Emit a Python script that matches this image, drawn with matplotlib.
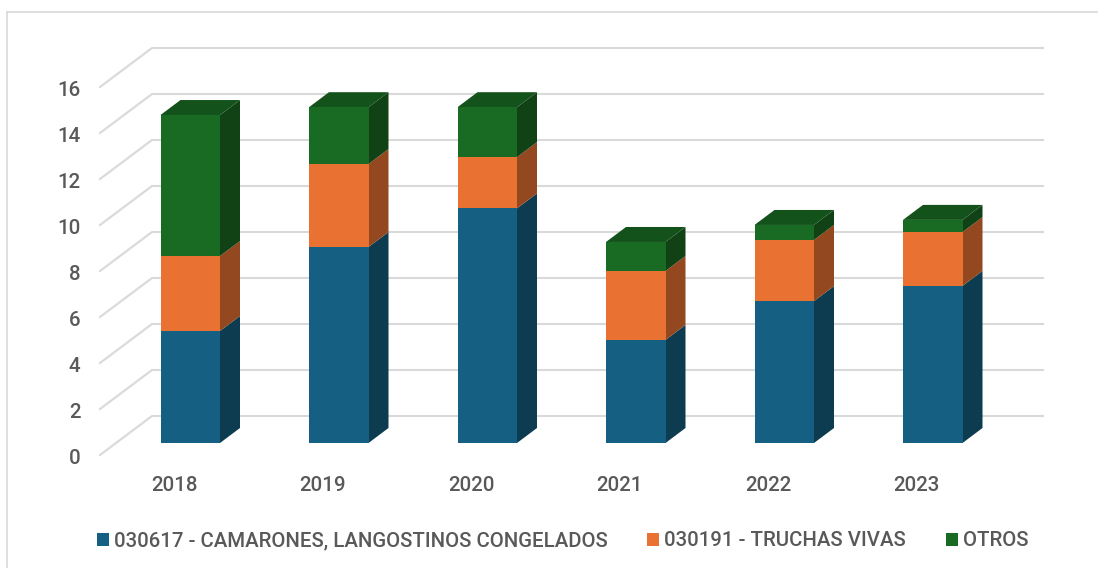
import matplotlib
matplotlib.use("Agg")
import matplotlib.pyplot as plt
from matplotlib.patches import Polygon, Rectangle
from matplotlib.transforms import Affine2D

years = ["2018", "2019", "2020", "2021", "2022", "2023"]
camarones = [4.87, 8.52, 10.2, 4.48, 6.17, 6.83]
truchas = [3.26, 3.61, 2.23, 3.0, 2.66, 2.34]
otros = [6.13, 2.47, 2.17, 1.26, 0.65, 0.53]
series_names = ["030617 - CAMARONES, LANGOSTINOS CONGELADOS", "030191 - TRUCHAS VIVAS", "OTROS"]
yticks = [0, 2, 4, 6, 8, 10, 12, 14, 16]

FRONT = ["#156082", "#E97132", "#196B24"]
SIDE = ["#0D3B4F", "#93481F", "#104216"]
TOP = ["#0F4A64", "#B0551F", "#14521B"]
GRID = "#D9D9D9"
TEXT = "#595959"

W, H, DPI = 1098, 568, 100
plt.rcParams["font.family"] = ["Roboto", "DejaVu Sans"]
plt.rcParams["font.weight"] = "medium"
fig = plt.figure(figsize=(W / DPI, H / DPI), dpi=DPI, facecolor="white")

# figure frame: left and top edges only
fig.add_artist(plt.Line2D([7 / W, 7 / W], [0, 1 - 12 / H], color=GRID, lw=1.2))
fig.add_artist(plt.Line2D([7 / W, 1], [1 - 12 / H, 1 - 12 / H], color=GRID, lw=1.2))

# axes = the front plane of the 3D box
ax = fig.add_axes([100 / W, (H - 455) / H, 891 / W, 368 / H])
ax.set_xlim(-0.5, 5.5)
ax.set_ylim(0, 16)
ax.patch.set_visible(False)
for s in ax.spines.values():
    s.set_visible(False)
ax.set_xticks(range(len(years)))
ax.set_xticklabels(years)
ax.set_yticks(yticks)
ax.tick_params(axis="both", length=0, labelsize=14.8, labelcolor=TEXT)
ax.tick_params(axis="x", pad=15.2)
ax.tick_params(axis="y", pad=14)
for lab in ax.get_yticklabels():
    lab.set_transform(lab.get_transform() + Affine2D().translate(0, -1.5))

px = 6 / 891          # one pixel in x data units
py = 16 / 368         # one pixel in y data units
wall_dx, wall_dy = 52 * px, 39 * py
bar_dx, bar_dy = 16 * px, 12 * py
dep_dx, dep_dy = 20 * px, 15 * py
bw = 59.5 * px

# back wall gridlines and floor/side diagonals
for v in yticks:
    ax.plot([-0.5, -0.5 + wall_dx, 5.5 + wall_dx], [v, v + wall_dy, v + wall_dy],
            color=GRID, lw=1.5, clip_on=False, zorder=1, solid_joinstyle="miter")

# stacked 3D bars
for i in range(len(years)):
    x0 = i + bar_dx - bw / 2
    x1 = x0 + bw
    bottom = bar_dy
    stack = [camarones[i], truchas[i], otros[i]]
    for k, h in enumerate(stack):
        top = bottom + h
        ax.add_patch(Polygon([(x1, bottom), (x1 + dep_dx, bottom + dep_dy),
                              (x1 + dep_dx, top + dep_dy), (x1, top)],
                             closed=True, fc=SIDE[k], ec="none", clip_on=False, zorder=3))
        ax.bar(i + bar_dx, h, width=bw, bottom=bottom, color=FRONT[k], clip_on=False, zorder=4,
               label=series_names[k] if i == 0 else None)
        bottom = top
    ax.add_patch(Polygon([(x0, bottom), (x1, bottom), (x1 + dep_dx, bottom + dep_dy),
                          (x0 + dep_dx, bottom + dep_dy)],
                         closed=True, fc=TOP[2], ec="none", clip_on=False, zorder=3))

handles = [Rectangle((0, 0), 1, 1, fc=c, ec="none") for c in FRONT]
leg = ax.legend(handles, series_names, ncol=3, frameon=False, fontsize=14.7, labelcolor=TEXT,
                loc="center", bbox_to_anchor=(562.5 / W, (H - 541) / H), bbox_transform=fig.transFigure,
                handlelength=0.58, handleheight=0.58, handletextpad=0.25, columnspacing=1.95,
                borderpad=0, borderaxespad=0)

fig.savefig("out.png", dpi=DPI)
